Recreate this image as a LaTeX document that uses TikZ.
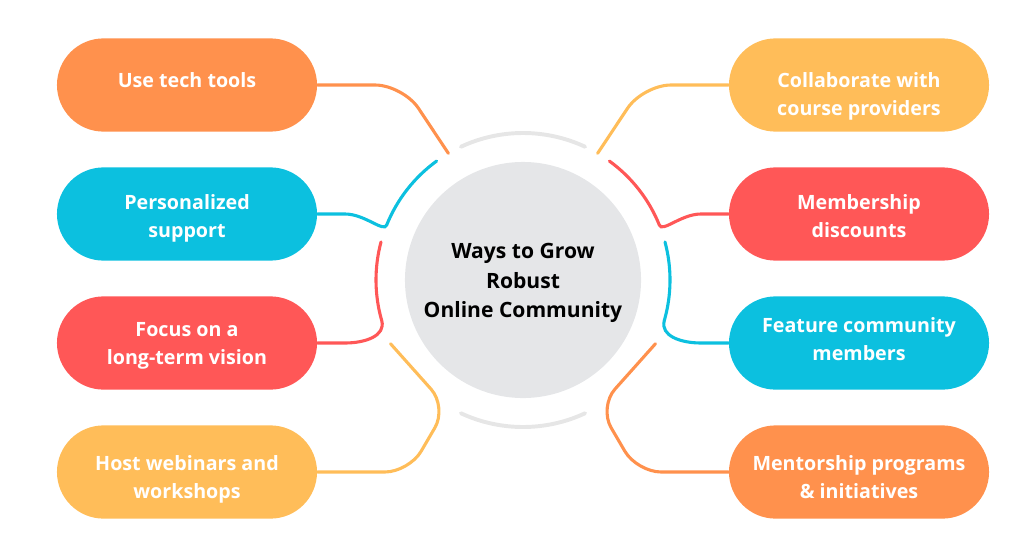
\documentclass[tikz,border=0pt]{standalone}
\usepackage{fontspec}
\setmainfont{Open Sans}
\usepackage{xcolor}
\usetikzlibrary{
    calc,
    shapes.misc
}
\definecolor{tOrange}{HTML}{FF914D}
\definecolor{tCyan}{HTML}{0CC0DF}
\definecolor{tRed}{HTML}{FF5757}
\definecolor{tYellow}{HTML}{FFBD59}
\definecolor{hubGray}{HTML}{E5E6E8}
\definecolor{ringGray}{HTML}{E6E6E6}

\begin{document}
\begin{tikzpicture}[
    x=0.025cm, y=-0.025cm,
    pill/.style={rounded rectangle, minimum width=6.5cm, minimum height=2.33cm, inner sep=0pt},
    pilltext/.style={text=white, align=center, font=\bfseries\fontsize{14}{20}\selectfont},
    hubnode/.style={circle, fill=hubGray, minimum size=5.9cm},
    hubtext/.style={align=center, font=\bfseries\fontsize{15}{21}\selectfont},
    link/.style={line width=2.2pt, line cap=round},
    ring/.style={line width=2.8pt, ringGray, line cap=round}
]

\useasboundingbox (0,0) rectangle (1024,559);

% Hub
\node[hubnode] (hub) at (523,280) {};
\node[hubtext] (hub-txt) at (523,283) {Ways to Grow\\Robust\\Online Community};

% Grey ring pieces
\draw[ring] ($(hub)+(-65:147)$) arc[start angle=-65, end angle=-115, radius=147];
\draw[ring] ($(hub)+(65:147)$) arc[start angle=65, end angle=115, radius=147];

% Left column
\foreach \name/\col/\dy/\txt [count=\i] in {
    tools/tOrange/-5/{Use tech tools},
    support/tCyan/4.5/{Personalized\\support},
    vision/tRed/3/{Focus on a\\long-term vision},
    webinars/tYellow/7.5/{Host webinars and\\workshops}} {
    \node[pill, fill=\col] (\name) at (187, {85+(\i-1)*129}) {};
    \node[pilltext] (\name-txt) at (187, {85+(\i-1)*129+\dy}) {\txt};
}

% Right column
\foreach \name/\col/\dy/\txt [count=\i] in {
    providers/tYellow/11/{Collaborate with\\course providers},
    discounts/tRed/2/{Membership\\discounts},
    members/tCyan/-4/{Feature community\\members},
    mentorship/tOrange/5/{Mentorship programs\\\& initiatives}} {
    \node[pill, fill=\col] (\name) at (859, {85+(\i-1)*129}) {};
    \node[pilltext] (\name-txt) at (859, {85+(\i-1)*129+\dy}) {\txt};
}

% Connectors - left
\draw[link, tOrange, rounded corners=0.7cm] (tools.east) -- (403,85) -- ($(hub)+(-120.5:147)$);
\draw[link, tCyan] (support.east) -- (345,214) .. controls (365,214) and (384,233) .. ($(hub)+(-158:147)$)
    arc[start angle=-158, end angle=-126, radius=147];
\draw[link, tRed] (vision.east) -- (345,343) .. controls (365,343) and (386,336) .. ($(hub)+(-196:147)$)
    arc[start angle=-196, end angle=-165, radius=147];
\draw[link, tYellow, rounded corners=0.6cm] (webinars.east) -- (409,472) -- (447,407) -- ($(hub)+(154.3:147)$);

% Connectors - right
\draw[link, tYellow, rounded corners=0.7cm] (providers.west) -- (643,85) -- ($(hub)+(-59.5:147)$);
\draw[link, tRed] (discounts.west) -- (701,214) .. controls (681,214) and (662,233) .. ($(hub)+(-22:147)$)
    arc[start angle=-22, end angle=-54, radius=147];
\draw[link, tCyan] (members.west) -- (701,343) .. controls (681,343) and (660,336) .. ($(hub)+(16:147)$)
    arc[start angle=16, end angle=-15, radius=147];
\draw[link, tOrange, rounded corners=0.6cm] (mentorship.west) -- (637,472) -- (599,407) -- ($(hub)+(25.7:147)$);

\end{tikzpicture}
\end{document}
